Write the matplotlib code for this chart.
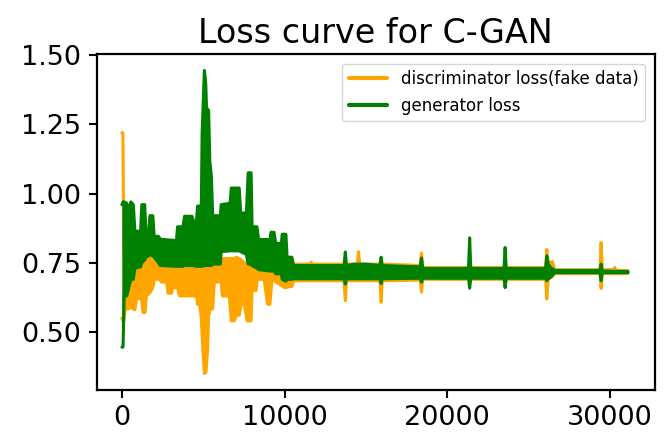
import matplotlib
matplotlib.use("Agg")
import matplotlib.pyplot as plt

# ---- data (training step, upper / lower envelope of the noisy loss) ----
disc_steps = [0, 60, 120, 200, 400, 500, 800, 900, 1200, 1300, 1420, 1500, 1700, 1900, 2000,
              2300, 2440, 2750, 2830, 3050, 3120, 3420, 3540, 4580, 4650, 4770, 4870, 4970,
              5070, 5170, 5270, 5330, 5420, 5580, 5680, 6100, 6170, 6600, 6720, 6900, 7030,
              7210, 7330, 7520, 7700, 7940, 8000, 8250, 8310, 8740, 8950, 9100, 9220, 10000,
              10450, 10550, 11560, 11630, 11700, 13650, 13730, 13800, 14470, 14540, 14610,
              15860, 15930, 16000, 18330, 18410, 18490, 26040, 26110, 26200, 26460, 26600,
              29380, 29450, 29520, 30220, 30290, 30360, 31100]
disc_high = [1.22, 1.22, 0.80, 0.78, 0.77, 0.76, 0.76, 0.75, 0.76, 0.77, 0.77, 0.775, 0.775,
             0.77, 0.76, 0.75, 0.745, 0.745, 0.745, 0.745, 0.745, 0.745, 0.745, 0.745, 0.745,
             0.745, 0.745, 0.745, 0.745, 0.745, 0.745, 0.745, 0.745, 0.745, 0.75, 0.76, 0.765,
             0.765, 0.765, 0.765, 0.77, 0.765, 0.76, 0.75, 0.745, 0.745, 0.74, 0.74, 0.735,
             0.73, 0.73, 0.73, 0.725, 0.72, 0.74, 0.745, 0.745, 0.752, 0.745, 0.745, 0.745,
             0.745, 0.745, 0.79, 0.745, 0.745, 0.745, 0.745, 0.74, 0.785, 0.733, 0.733, 0.798,
             0.75, 0.754, 0.725, 0.725, 0.823, 0.725, 0.725, 0.733, 0.722, 0.722]
disc_low = [0.55, 0.54, 0.54, 0.583, 0.583, 0.59, 0.58, 0.62, 0.62, 0.57, 0.57, 0.63, 0.64,
            0.66, 0.69, 0.69, 0.68, 0.68, 0.64, 0.64, 0.66, 0.66, 0.63, 0.63, 0.60, 0.60,
            0.558, 0.44, 0.35, 0.355, 0.44, 0.558, 0.583, 0.583, 0.68, 0.68, 0.63, 0.63, 0.54,
            0.54, 0.56, 0.56, 0.60, 0.60, 0.54, 0.54, 0.65, 0.65, 0.69, 0.69, 0.60, 0.60, 0.69,
            0.66, 0.665, 0.685, 0.685, 0.685, 0.685, 0.685, 0.613, 0.685, 0.685, 0.685, 0.685,
            0.685, 0.607, 0.685, 0.687, 0.644, 0.69, 0.69, 0.619, 0.69, 0.70, 0.711, 0.711,
            0.657, 0.711, 0.711, 0.711, 0.711, 0.711]

gen_steps = [0, 70, 140, 300, 420, 550, 700, 800, 1150, 1220, 1400, 1480, 1650, 1720, 1900,
             1980, 2250, 2350, 3350, 3420, 3750, 3850, 4300, 4400, 4580, 4650, 4880, 4930,
             5070, 5150, 5200, 5330, 5400, 5500, 5580, 6050, 6100, 6650, 6720, 7210, 7300,
             7650, 7760, 7940, 8000, 8300, 8400, 9100, 9160, 9350, 9450, 9800, 9850, 10080,
             10150, 10450, 10550, 13650, 13730, 13800, 14300, 15000, 15850, 15930, 16000,
             18330, 18410, 18490, 21300, 21370, 21440, 23480, 23550, 23620, 26040, 26110,
             26200, 26350, 26600, 29380, 29450, 29520, 31100]
gen_high = [0.96, 0.97, 0.97, 0.965, 0.94, 0.97, 0.96, 0.864, 0.864, 0.96, 0.96, 0.864, 0.864,
            0.92, 0.92, 0.847, 0.845, 0.835, 0.83, 0.88, 0.88, 0.918, 0.918, 0.90, 0.90, 0.955,
            0.955, 1.22, 1.445, 1.40, 1.31, 1.30, 1.12, 1.06, 0.92, 0.92, 0.96, 0.965, 1.02,
            1.02, 0.93, 0.93, 1.075, 1.075, 0.88, 0.88, 0.834, 0.834, 0.86, 0.86, 0.82, 0.82,
            0.853, 0.853, 0.77, 0.77, 0.74, 0.74, 0.789, 0.74, 0.745, 0.745, 0.74, 0.77, 0.74,
            0.735, 0.767, 0.729, 0.729, 0.84, 0.729, 0.729, 0.805, 0.729, 0.729, 0.775, 0.745,
            0.733, 0.722, 0.722, 0.745, 0.72, 0.718]
gen_low = [0.445, 0.445, 0.63, 0.63, 0.66, 0.69, 0.69, 0.73, 0.735, 0.75, 0.76, 0.77, 0.775,
           0.78, 0.775, 0.77, 0.75, 0.74, 0.737, 0.737, 0.737, 0.74, 0.74, 0.74, 0.737, 0.737,
           0.737, 0.737, 0.74, 0.74, 0.74, 0.74, 0.74, 0.74, 0.745, 0.745, 0.79, 0.793, 0.793,
           0.793, 0.79, 0.78, 0.745, 0.745, 0.74, 0.73, 0.725, 0.72, 0.72, 0.72, 0.71, 0.71,
           0.69, 0.683, 0.69, 0.69, 0.692, 0.692, 0.673, 0.692, 0.692, 0.692, 0.692, 0.675,
           0.692, 0.694, 0.68, 0.694, 0.694, 0.658, 0.694, 0.694, 0.66, 0.694, 0.694, 0.685,
           0.692, 0.698, 0.714, 0.714, 0.685, 0.714, 0.714]

title = "Loss curve for C-GAN"
disc_label = "discriminator loss(fake data)"
gen_label = "generator loss"
x_ticks = [0, 10000, 20000, 30000]
y_ticks = [0.50, 0.75, 1.00, 1.25, 1.50]

# ---- figure ----
fig = plt.figure(figsize=(6.67, 4.32), dpi=100)
ax = fig.add_axes([0.1447, 0.0972, 0.982 - 0.1447, 0.876 - 0.0972])

LW = 2.2
for steps, high, low, color, label, z in [
        (disc_steps, disc_high, disc_low, "orange", disc_label, 2),
        (gen_steps, gen_high, gen_low, "green", gen_label, 3)]:
    ax.fill_between(steps, low, high, color=color, linewidth=0, zorder=z)
    ax.plot(steps, high, color=color, lw=LW, solid_joinstyle="round",
            solid_capstyle="round", zorder=z, label=label)
    ax.plot(steps, low, color=color, lw=LW, solid_joinstyle="round",
            solid_capstyle="round", zorder=z)

ax.set_xlim(-1560, 32760)
ax.set_ylim(0.29, 1.506)
ax.set_xticks(x_ticks)
ax.set_xticklabels([str(t) for t in x_ticks])
ax.set_yticks(y_ticks)
ax.set_yticklabels([f"{t:.2f}" for t in y_ticks])
ax.tick_params(labelsize=19.5, length=5.5, width=1.5, pad=5.5)
for s in ax.spines.values():
    s.set_linewidth(1.6)

ax.set_title(title, fontsize=24, pad=7.5)
leg = ax.legend(loc="upper right", fontsize=12, handlelength=2.3,
                borderaxespad=0.6)
for h in leg.get_lines():
    h.set_linewidth(3)

fig.savefig("out.png", dpi=100)
